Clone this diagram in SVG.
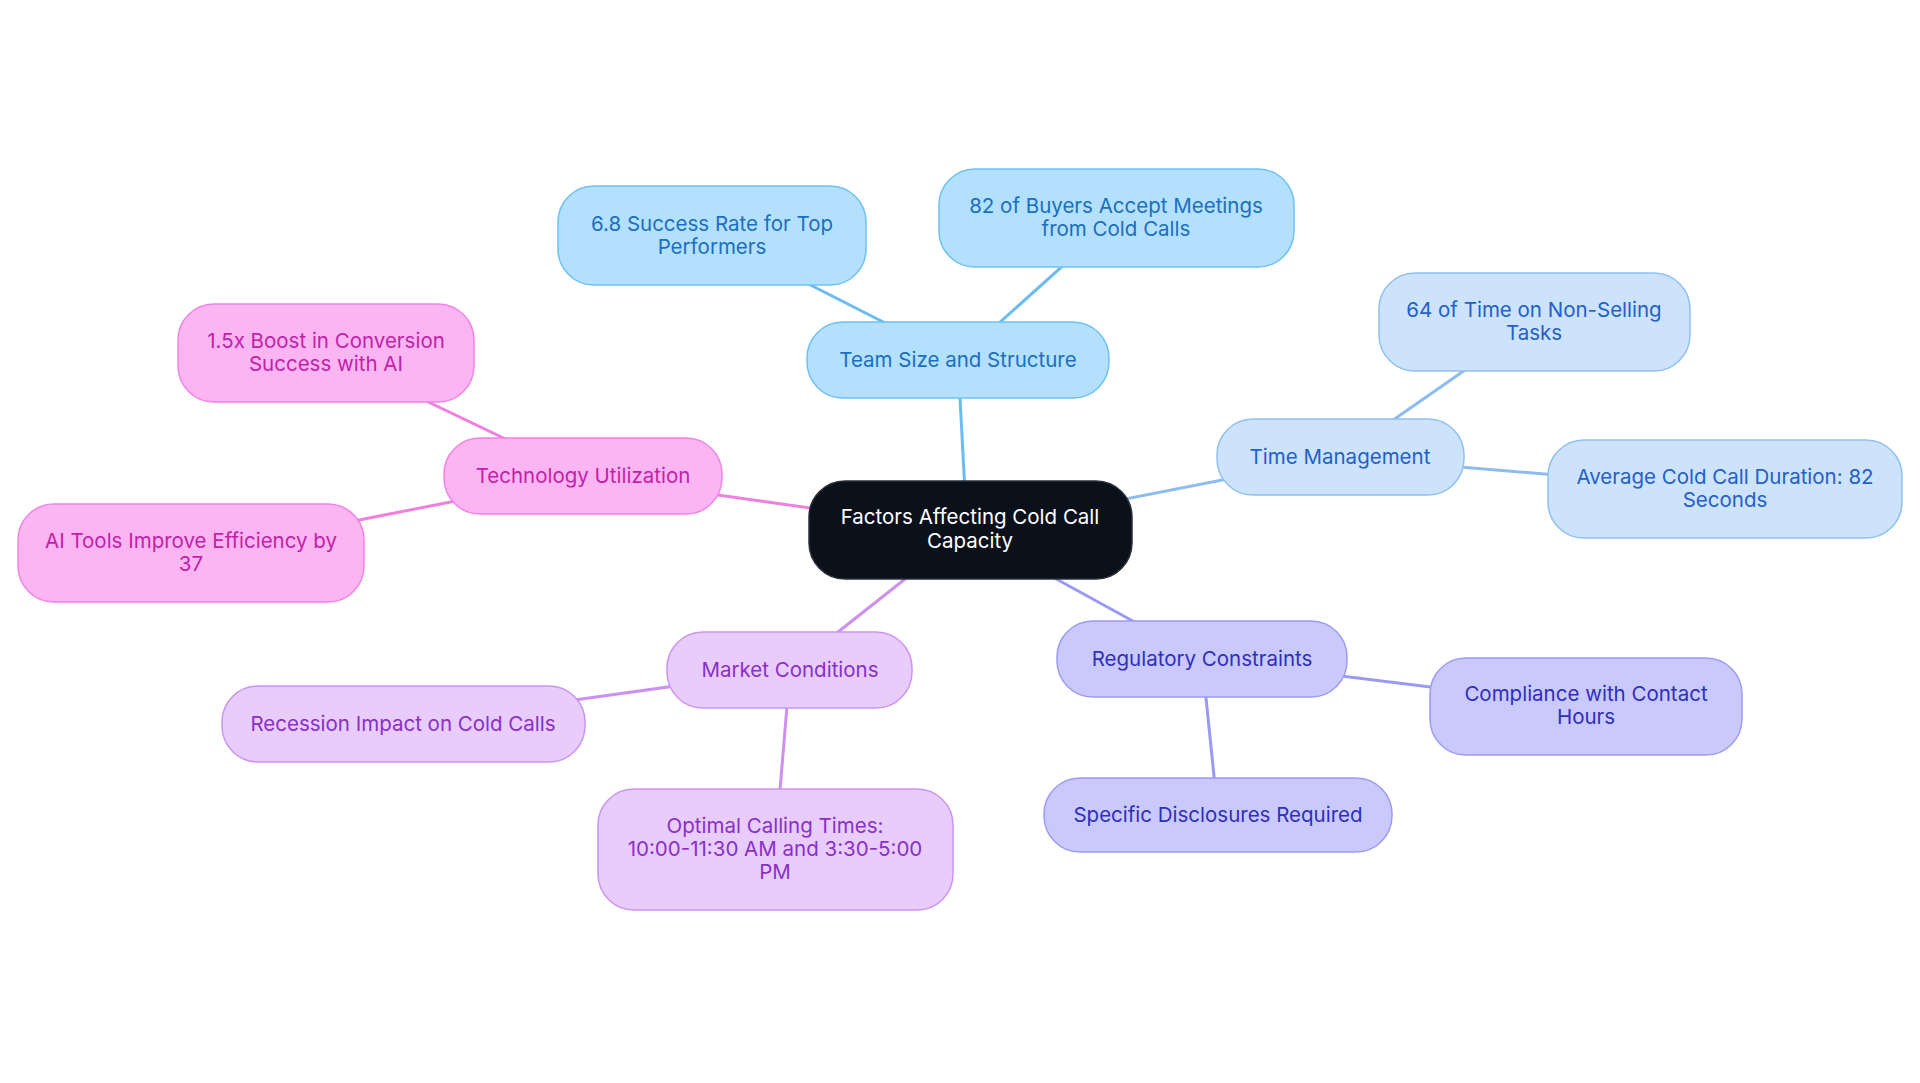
<svg xmlns="http://www.w3.org/2000/svg" width="1920" height="1083" viewBox="0 0 1920 1083">
<style>
text{font-family:Inter,"Liberation Sans",sans-serif;font-size:20.5px;text-anchor:middle}
line{stroke-width:3}
.c rect{fill:#0b111b;stroke:#2a2f38;stroke-width:1.5}.c text{fill:#fff}
.b rect{fill:#b3e0fd;stroke:#70c0f2;stroke-width:1.5}.b text{fill:#1b6fbf}
.t rect{fill:#cde3fb;stroke:#90c0f2;stroke-width:1.5}.t text{fill:#2360c8}
.r rect{fill:#c9c9fc;stroke:#9c9cf2;stroke-width:1.5}.r text{fill:#2f2fbd}
.m rect{fill:#e7ccfc;stroke:#cc94f0;stroke-width:1.5}.m text{fill:#8a2fc8}
.p rect{fill:#fcb5f3;stroke:#f084e2;stroke-width:1.5}.p text{fill:#c21faa}
</style>
<rect width="1920" height="1083" fill="#fff"/>
<g id="connectors">
<line x1="967" y1="530" x2="958" y2="360" stroke="#6bbcf0"/>
<line x1="958" y1="360" x2="712" y2="235" stroke="#6bbcf0"/>
<line x1="958" y1="360" x2="1116" y2="218" stroke="#6bbcf0"/>
<line x1="967" y1="530" x2="1340" y2="457" stroke="#8cbcf0"/>
<line x1="1340" y1="457" x2="1534" y2="322" stroke="#8cbcf0"/>
<line x1="1340" y1="457" x2="1725" y2="489" stroke="#8cbcf0"/>
<line x1="967" y1="530" x2="1202" y2="659" stroke="#9a9af5"/>
<line x1="1202" y1="659" x2="1586" y2="706" stroke="#9a9af5"/>
<line x1="1202" y1="659" x2="1218" y2="815" stroke="#9a9af5"/>
<line x1="967" y1="530" x2="790" y2="670" stroke="#cc90f0"/>
<line x1="790" y1="670" x2="403" y2="724" stroke="#cc90f0"/>
<line x1="790" y1="670" x2="775" y2="850" stroke="#cc90f0"/>
<line x1="967" y1="530" x2="583" y2="476" stroke="#f080e0"/>
<line x1="583" y1="476" x2="326" y2="353" stroke="#f080e0"/>
<line x1="583" y1="476" x2="191" y2="553" stroke="#f080e0"/>
</g>
<g id="center" class="c"><rect x="809" y="481" width="323" height="98" rx="36"/><text x="970" y="524">Factors Affecting Cold Call</text><text x="970" y="548">Capacity</text></g>
<g id="team" class="b"><rect x="807" y="322" width="302" height="76" rx="36"/><text x="958" y="367">Team Size and Structure</text></g>
<g id="success" class="b"><rect x="558" y="186" width="308" height="99" rx="36"/><text x="712" y="231">6.8 Success Rate for Top</text><text x="712" y="254">Performers</text></g>
<g id="buyers" class="b"><rect x="939" y="169" width="355" height="98" rx="36"/><text x="1116" y="213">82 of Buyers Accept Meetings</text><text x="1116" y="236">from Cold Calls</text></g>
<g id="time" class="t"><rect x="1217" y="419" width="247" height="76" rx="36"/><text x="1340" y="464">Time Management</text></g>
<g id="nonselling" class="t"><rect x="1379" y="273" width="311" height="98" rx="36"/><text x="1534" y="317">64 of Time on Non-Selling</text><text x="1534" y="340">Tasks</text></g>
<g id="duration" class="t"><rect x="1548" y="440" width="354" height="98" rx="36"/><text x="1725" y="484">Average Cold Call Duration: 82</text><text x="1725" y="507">Seconds</text></g>
<g id="regulatory" class="r"><rect x="1057" y="621" width="290" height="76" rx="36"/><text x="1202" y="666">Regulatory Constraints</text></g>
<g id="compliance" class="r"><rect x="1430" y="658" width="312" height="97" rx="36"/><text x="1586" y="701">Compliance with Contact</text><text x="1586" y="724">Hours</text></g>
<g id="disclosures" class="r"><rect x="1044" y="778" width="348" height="74" rx="36"/><text x="1218" y="822">Specific Disclosures Required</text></g>
<g id="market" class="m"><rect x="667" y="632" width="245" height="76" rx="36"/><text x="790" y="677">Market Conditions</text></g>
<g id="recession" class="m"><rect x="222" y="686" width="363" height="76" rx="36"/><text x="403" y="731">Recession Impact on Cold Calls</text></g>
<g id="optimal" class="m"><rect x="598" y="789" width="355" height="121" rx="36"/><text x="775" y="833">Optimal Calling Times:</text><text x="775" y="856">10:00-11:30 AM and 3:30-5:00</text><text x="775" y="879">PM</text></g>
<g id="technology" class="p"><rect x="444" y="438" width="278" height="76" rx="36"/><text x="583" y="483">Technology Utilization</text></g>
<g id="boost" class="p"><rect x="178" y="304" width="296" height="98" rx="36"/><text x="326" y="348">1.5x Boost in Conversion</text><text x="326" y="371">Success with AI</text></g>
<g id="aitools" class="p"><rect x="18" y="504" width="346" height="98" rx="36"/><text x="191" y="548">AI Tools Improve Efficiency by</text><text x="191" y="571">37</text></g>
</svg>
